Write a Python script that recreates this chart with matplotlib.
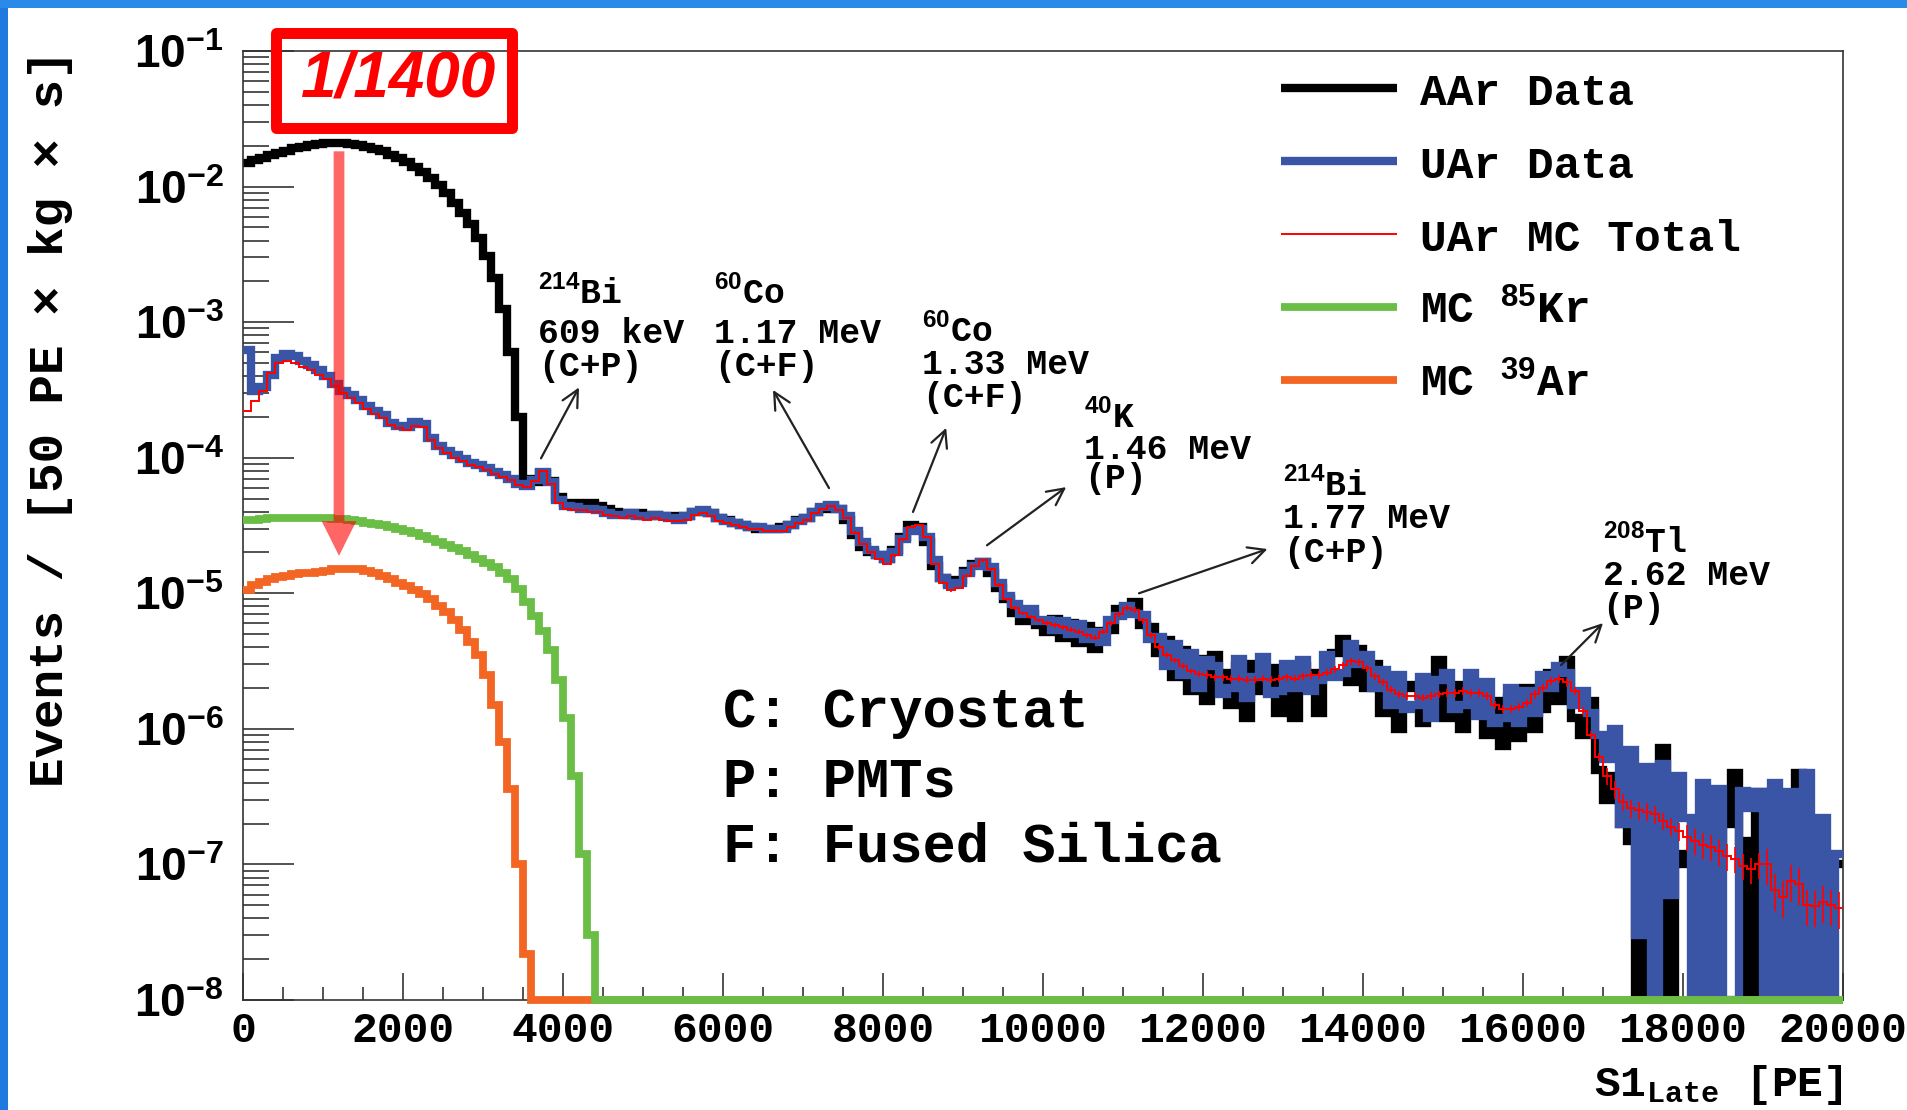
import numpy as np
import matplotlib
matplotlib.use('Agg')
import matplotlib.pyplot as plt
from matplotlib.lines import Line2D
from matplotlib.patches import Rectangle
from matplotlib.ticker import MultipleLocator, LogLocator, NullFormatter, FuncFormatter

# Histograms in 100 PE bins, 0 - 20000 PE
bin_width = 100
x_max = 20000

aar_data = [
    1.50e-2, 1.56e-2, 1.63e-2, 1.70e-2, 1.77e-2, 1.84e-2, 1.91e-2, 1.97e-2, 2.02e-2, 2.06e-2,
    2.08e-2, 2.09e-2, 2.09e-2, 2.07e-2, 2.03e-2, 1.97e-2, 1.90e-2, 1.82e-2, 1.72e-2, 1.62e-2,
    1.52e-2, 1.40e-2, 1.28e-2, 1.15e-2, 1.02e-2, 8.9e-3, 7.6e-3, 6.4e-3, 5.3e-3, 4.2e-3,
    3.1e-3, 2.1e-3, 1.25e-3, 6.0e-4, 2.0e-4, 7.0e-5, 6.6e-5, 7.7e-5, 6.7e-5, 5.1e-5,
    4.6e-5, 4.6e-5, 4.5e-5, 4.6e-5, 4.4e-5, 4.2e-5, 4.0e-5, 3.9e-5, 3.8e-5, 3.9e-5,
    3.7e-5, 3.8e-5, 3.7e-5, 3.7e-5, 3.6e-5, 3.7e-5, 4.0e-5, 4.0e-5, 3.9e-5, 3.6e-5,
    3.5e-5, 3.3e-5, 3.2e-5, 3.1e-5, 3.0e-5, 3.0e-5, 3.0e-5, 3.1e-5, 3.2e-5, 3.5e-5,
    3.6e-5, 4.0e-5, 4.2e-5, 4.4e-5, 4.2e-5, 3.5e-5, 2.7e-5, 2.2e-5, 2.0e-5, 1.9e-5,
    1.8e-5, 2.1e-5, 2.6e-5, 3.2e-5, 3.1e-5, 2.4e-5, 1.6e-5, 1.3e-5, 1.2e-5, 1.25e-5,
    1.45e-5, 1.65e-5, 1.7e-5, 1.4e-5, 1.1e-5, 9.0e-6, 7.2e-6, 6.2e-6, 7.0e-6, 5.8e-6,
    5.2e-6, 6.5e-6, 4.7e-6, 6.0e-6, 4.3e-6, 5.7e-6, 3.9e-6, 5.3e-6, 5.4e-6, 7.6e-6,
    7.8e-6, 8.6e-6, 5.8e-6, 5.6e-6, 3.6e-6, 4.5e-6, 2.4e-6, 3.8e-6, 1.9e-6, 3.3e-6,
    1.6e-6, 3.5e-6, 2.6e-6, 1.5e-6, 2.9e-6, 1.2e-6, 3.0e-6, 1.9e-6, 2.8e-6, 1.3e-6,
    2.7e-6, 1.2e-6, 2.9e-6, 2.6e-6, 1.3e-6, 2.5e-6, 3.6e-6, 4.6e-6, 2.2e-6, 3.9e-6,
    2.0e-6, 3.0e-6, 1.3e-6, 2.4e-6, 1.0e-6, 2.1e-6, 2.0e-6, 1.1e-6, 2.3e-6, 3.2e-6,
    1.2e-6, 2.1e-6, 1.0e-6, 1.3e-6, 2.0e-6, 9.0e-7, 1.6e-6, 7.5e-7, 1.7e-6, 8.5e-7,
    2.0e-6, 1.0e-6, 1.4e-6, 2.6e-6, 1.6e-6, 3.2e-6, 1.2e-6, 9.0e-7, 1.6e-6, 5.0e-7,
    3.0e-7, 4.5e-7, 2.0e-7, 1.5e-7, 0, 2.5e-7, 2.0e-7, 7.2e-7, 0, 1.2e-7,
    1.0e-7, 2.0e-7, 1.5e-7, 1.0e-7, 1.2e-7, 2.0e-7, 4.7e-7, 1.5e-7, 0, 3.4e-7,
    2.0e-7, 1.2e-7, 1.0e-7, 2.5e-7, 4.7e-7, 1.0e-7, 1.5e-7, 1.0e-7, 1.0e-7, 1.0e-7,
]

uar_data = [
    6.2e-4, 3.1e-4, 3.3e-4, 4.1e-4, 5.4e-4, 5.8e-4, 5.6e-4, 5.2e-4, 4.8e-4, 4.4e-4,
    4.0e-4, 3.5e-4, 3.1e-4, 2.9e-4, 2.65e-4, 2.4e-4, 2.2e-4, 2.05e-4, 1.8e-4, 1.7e-4,
    1.68e-4, 1.82e-4, 1.78e-4, 1.4e-4, 1.22e-4, 1.12e-4, 1.05e-4, 9.8e-5, 9.2e-5, 8.8e-5,
    8.4e-5, 7.9e-5, 7.5e-5, 7.0e-5, 6.4e-5, 6.2e-5, 6.8e-5, 7.8e-5, 6.6e-5, 4.9e-5,
    4.4e-5, 4.3e-5, 4.2e-5, 4.2e-5, 4.1e-5, 3.9e-5, 3.8e-5, 3.8e-5, 3.9e-5, 3.7e-5,
    3.7e-5, 3.8e-5, 3.7e-5, 3.6e-5, 3.5e-5, 3.7e-5, 4.0e-5, 4.1e-5, 3.9e-5, 3.6e-5,
    3.4e-5, 3.3e-5, 3.2e-5, 3.1e-5, 3.1e-5, 3.0e-5, 3.0e-5, 3.0e-5, 3.2e-5, 3.4e-5,
    3.6e-5, 4.0e-5, 4.3e-5, 4.5e-5, 4.2e-5, 3.7e-5, 2.9e-5, 2.4e-5, 2.1e-5, 1.9e-5,
    1.8e-5, 2.0e-5, 2.5e-5, 2.9e-5, 3.0e-5, 2.6e-5, 1.75e-5, 1.3e-5, 1.15e-5, 1.2e-5,
    1.4e-5, 1.6e-5, 1.7e-5, 1.55e-5, 1.2e-5, 9.5e-6, 8.4e-6, 7.0e-6, 7.6e-6, 6.2e-6,
    6.4e-6, 5.4e-6, 6.2e-6, 5.0e-6, 5.9e-6, 4.6e-6, 5.2e-6, 4.4e-6, 6.3e-6, 6.8e-6,
    8.0e-6, 7.0e-6, 6.9e-6, 4.6e-6, 4.8e-6, 2.9e-6, 4.2e-6, 2.5e-6, 3.6e-6, 2.0e-6,
    3.2e-6, 2.9e-6, 1.8e-6, 2.0e-6, 3.3e-6, 1.7e-6, 2.4e-6, 3.4e-6, 1.8e-6, 1.9e-6,
    3.0e-6, 2.0e-6, 3.2e-6, 1.9e-6, 2.3e-6, 3.5e-6, 2.4e-6, 2.6e-6, 4.2e-6, 3.0e-6,
    3.5e-6, 2.0e-6, 2.7e-6, 1.5e-6, 2.5e-6, 1.4e-6, 1.5e-6, 2.4e-6, 1.2e-6, 2.3e-6,
    2.6e-6, 1.4e-6, 1.5e-6, 2.6e-6, 1.25e-6, 2.2e-6, 1.1e-6, 1.2e-6, 2.0e-6, 1.1e-6,
    1.9e-6, 1.3e-6, 2.5e-6, 2.0e-6, 2.9e-6, 2.6e-6, 1.5e-6, 1.9e-6, 1.3e-6, 9.0e-7,
    6.0e-7, 1.0e-6, 2.0e-7, 7.0e-7, 3.0e-8, 5.2e-7, 0, 5.5e-7, 6.0e-8, 4.5e-7,
    2.2e-7, 0, 4.0e-7, 0, 3.6e-7, 0, 0, 3.5e-7, 2.6e-7, 3.4e-7,
    0, 4.0e-7, 0, 3.4e-7, 0, 4.7e-7, 0, 2.2e-7, 0, 1.2e-7,
]

uar_mc_total = [
    2.2e-4, 2.6e-4, 3.1e-4, 4.2e-4, 5.0e-4, 5.2e-4, 5.0e-4, 4.7e-4, 4.4e-4, 4.1e-4,
    3.8e-4, 3.4e-4, 3.0e-4, 2.75e-4, 2.55e-4, 2.3e-4, 2.1e-4, 1.95e-4, 1.75e-4, 1.65e-4,
    1.6e-4, 1.72e-4, 1.68e-4, 1.35e-4, 1.17e-4, 1.08e-4, 1.0e-4, 9.4e-5, 8.9e-5, 8.5e-5,
    8.1e-5, 7.6e-5, 7.2e-5, 6.8e-5, 6.3e-5, 6.1e-5, 6.7e-5, 8.0e-5, 6.4e-5, 4.6e-5,
    4.2e-5, 4.1e-5, 4.1e-5, 4.0e-5, 4.0e-5, 3.8e-5, 3.7e-5, 3.6e-5, 3.7e-5, 3.6e-5,
    3.5e-5, 3.6e-5, 3.5e-5, 3.4e-5, 3.4e-5, 3.5e-5, 3.8e-5, 3.9e-5, 3.7e-5, 3.4e-5,
    3.3e-5, 3.2e-5, 3.1e-5, 3.0e-5, 3.0e-5, 2.9e-5, 2.9e-5, 2.9e-5, 3.1e-5, 3.3e-5,
    3.5e-5, 3.9e-5, 4.2e-5, 4.4e-5, 4.1e-5, 3.6e-5, 2.8e-5, 2.3e-5, 2.0e-5, 1.8e-5,
    1.65e-5, 1.9e-5, 2.5e-5, 3.1e-5, 3.2e-5, 2.6e-5, 1.65e-5, 1.2e-5, 1.05e-5, 1.1e-5,
    1.35e-5, 1.6e-5, 1.75e-5, 1.5e-5, 1.15e-5, 9.0e-6, 7.8e-6, 7.1e-6, 6.7e-6, 6.3e-6,
    6.0e-6, 5.8e-6, 5.6e-6, 5.4e-6, 5.2e-6, 4.9e-6, 4.7e-6, 5.2e-6, 6.0e-6, 7.0e-6,
    7.8e-6, 7.5e-6, 6.3e-6, 4.9e-6, 4.0e-6, 3.5e-6, 3.2e-6, 2.9e-6, 2.65e-6, 2.55e-6,
    2.5e-6, 2.4e-6, 2.4e-6, 2.35e-6, 2.35e-6, 2.3e-6, 2.3e-6, 2.35e-6, 2.3e-6, 2.35e-6,
    2.4e-6, 2.35e-6, 2.45e-6, 2.5e-6, 2.5e-6, 2.6e-6, 2.75e-6, 2.95e-6, 3.15e-6, 3.1e-6,
    2.8e-6, 2.45e-6, 2.2e-6, 1.95e-6, 1.8e-6, 1.75e-6, 1.75e-6, 1.7e-6, 1.75e-6, 1.8e-6,
    1.85e-6, 1.85e-6, 1.9e-6, 1.85e-6, 1.85e-6, 1.75e-6, 1.5e-6, 1.4e-6, 1.4e-6, 1.45e-6,
    1.55e-6, 1.8e-6, 2.0e-6, 2.25e-6, 2.35e-6, 2.2e-6, 1.9e-6, 1.35e-6, 9.0e-7, 6.2e-7,
    4.5e-7, 3.6e-7, 2.9e-7, 2.6e-7, 2.5e-7, 2.45e-7, 2.35e-7, 2.1e-7, 1.9e-7, 1.75e-7,
    1.6e-7, 1.5e-7, 1.4e-7, 1.35e-7, 1.25e-7, 1.15e-7, 1.1e-7, 9.8e-8, 9.2e-8, 1.0e-7,
    1.0e-7, 6.5e-8, 5.8e-8, 7.6e-8, 7.2e-8, 5.0e-8, 4.9e-8, 5.3e-8, 5.0e-8, 4.8e-8,
]

# relative MC uncertainty, one value per 1000 PE
mc_rel_err = [0.01, 0.01, 0.01, 0.01, 0.01, 0.01, 0.01, 0.02, 0.02, 0.03,
              0.04, 0.05, 0.06, 0.06, 0.06, 0.07, 0.07, 0.15, 0.22, 0.30]

# MC components, only the non-empty bins at the start (rest are empty)
mc_kr85 = [
    3.45e-5, 3.5e-5, 3.55e-5, 3.6e-5, 3.6e-5, 3.6e-5, 3.6e-5, 3.6e-5, 3.6e-5, 3.6e-5,
    3.58e-5, 3.55e-5, 3.52e-5, 3.45e-5, 3.4e-5, 3.32e-5, 3.25e-5, 3.18e-5, 3.1e-5, 3.0e-5,
    2.9e-5, 2.78e-5, 2.65e-5, 2.52e-5, 2.38e-5, 2.28e-5, 2.17e-5, 2.05e-5, 1.92e-5, 1.8e-5,
    1.68e-5, 1.55e-5, 1.42e-5, 1.28e-5, 1.08e-5, 8.6e-6, 6.8e-6, 5.3e-6, 3.8e-6, 2.3e-6,
    1.2e-6, 4.5e-7, 1.2e-7, 3.0e-8,
]
mc_ar39 = [
    1.05e-5, 1.15e-5, 1.22e-5, 1.27e-5, 1.31e-5, 1.35e-5, 1.38e-5, 1.4e-5, 1.42e-5, 1.44e-5,
    1.47e-5, 1.5e-5, 1.52e-5, 1.51e-5, 1.5e-5, 1.46e-5, 1.41e-5, 1.35e-5, 1.28e-5, 1.2e-5,
    1.13e-5, 1.05e-5, 9.8e-6, 9.0e-6, 8.1e-6, 7.3e-6, 6.4e-6, 5.4e-6, 4.4e-6, 3.5e-6,
    2.5e-6, 1.5e-6, 8.0e-7, 3.6e-7, 1.0e-7, 2.2e-8,
]

legend_labels = ['AAr Data', 'UAr Data', 'UAr MC Total',
                 r'MC $^{\mathsf{85}}$Kr', r'MC $^{\mathsf{39}}$Ar']

# peak annotations: text lines, x of text, baseline of each line, arrow tail, arrow head
peak_notes = [
    ([r'$^{\mathsf{214}}$Bi', '609 keV', '(C+P)'], 3690, [1.36e-3, 7.0e-4, 4.0e-4],
     (3725, 9.9e-5), (4200, 3.3e-4)),
    ([r'$^{\mathsf{60}}$Co', '1.17 MeV', '(C+F)'], 5888, [1.36e-3, 7.0e-4, 4.0e-4],
     (7325, 5.97e-5), (6625, 3.16e-4)),
    ([r'$^{\mathsf{60}}$Co', '1.33 MeV', '(C+F)'], 8493, [7.16e-4, 4.14e-4, 2.36e-4],
     (8375, 3.98e-5), (8790, 1.66e-4)),
    ([r'$^{\mathsf{40}}$K', '1.46 MeV', '(P)'], 10513, [1.65e-4, 9.8e-5, 5.97e-5],
     (9300, 2.26e-5), (10290, 6.07e-5)),
    ([r'$^{\mathsf{214}}$Bi', '1.77 MeV', '(C+P)'], 13000, [5.25e-5, 3.03e-5, 1.71e-5],
     (11200, 1.0e-5), (12806, 2.12e-5)),
    ([r'$^{\mathsf{208}}$Tl', '2.62 MeV', '(P)'], 16995, [2.0e-5, 1.16e-5, 6.6e-6],
     (16475, 2.95e-6), (17000, 6.03e-6)),
]

source_notes = ['C: Cryostat', 'P: PMTs', 'F: Fused Silica']


def main():
    plt.rcParams['font.family'] = ['Liberation Mono', 'DejaVu Sans']
    plt.rcParams['font.weight'] = 'bold'
    plt.rcParams['mathtext.fontset'] = 'custom'
    plt.rcParams['mathtext.sf'] = 'Liberation Sans:bold'
    plt.rcParams['mathtext.rm'] = 'Liberation Mono:bold'

    W, H = 1908, 1110
    fig = plt.figure(figsize=(W / 100, H / 100), dpi=100)
    fig.patch.set_facecolor('white')

    # slide frame
    fig.add_artist(Rectangle((0, 0), 8 / W, 1, transform=fig.transFigure,
                             color='#1f7adf', lw=0))
    fig.add_artist(Rectangle((0, 1 - 8 / H), 1, 8 / H, transform=fig.transFigure,
                             color='#2a8ae8', lw=0))

    ax = fig.add_axes([243 / W, 1 - 1000 / H, 1600 / W, 949 / H])
    ymin, ymax = 1e-8, 1e-1

    edges = np.arange(0, x_max + bin_width, bin_width)
    nbins = len(edges) - 1

    def hist(vals):
        v = np.zeros(nbins)
        v[:len(vals)] = vals
        v = np.where(v > 0, v, ymin)   # empty bins sit on the frame like in ROOT
        return np.append(v, v[-1])

    step_kw = dict(where='post', solid_joinstyle='miter', solid_capstyle='butt')
    ax.step(edges, hist(aar_data), color='black', lw=6.0, zorder=2, **step_kw)
    ax.step(edges, hist(uar_data), color='#3a55a6', lw=6.0, zorder=3, **step_kw)
    ax.step(edges, hist(uar_mc_total), color='red', lw=1.4, zorder=5, **step_kw)

    centers = edges[:-1] + bin_width / 2
    mc = np.array(uar_mc_total)
    err = np.repeat(mc_rel_err, 10) * mc
    ax.errorbar(centers, mc, yerr=err, fmt='none', ecolor='red', elinewidth=1.2,
                capsize=0, zorder=5)

    ax.step(edges, hist(mc_ar39), color='#f26522', lw=5.6, zorder=6,
            clip_on=False, **step_kw)
    ax.step(edges, hist(mc_kr85), color='#6abd45', lw=5.6, zorder=7,
            clip_on=False, **step_kw)

    ax.set_xlim(0, x_max)
    ax.set_yscale('log')
    ax.set_ylim(ymin, ymax)

    ax.xaxis.set_major_locator(MultipleLocator(2000))
    ax.xaxis.set_minor_locator(MultipleLocator(500))
    ax.set_yticks([10.0 ** k for k in range(-8, 0)])
    ax.yaxis.set_minor_locator(LogLocator(base=10, subs=np.arange(2, 10)))
    ax.yaxis.set_minor_formatter(NullFormatter())
    ax.yaxis.set_major_formatter(
        FuncFormatter(lambda v, pos: r'$\mathsf{10^{%d}}$' % round(np.log10(v))))

    ax.tick_params(which='both', direction='in', top=False, right=False,
                   color='#222222', width=1.1)
    ax.tick_params(axis='y', which='major', length=36.5, labelsize=33, pad=14)
    ax.tick_params(axis='y', which='minor', length=18.5)
    ax.tick_params(axis='x', which='major', length=19.5, labelsize=31, pad=8)
    ax.tick_params(axis='x', which='minor', length=9.7)
    for s in ax.spines.values():
        s.set_linewidth(1.2)
        s.set_color('#333333')

    fig.text(51 / W, 1 - 418 / H, 'Events / [50 PE \u00d7 kg \u00d7 s]',
             rotation=90, ha='center', va='center', fontsize=35.5)
    fig.text(1843 / W, 1 - 1096 / H, r'S1$_{\mathdefault{Late}}$ [PE]',
             ha='right', va='baseline', fontsize=31)

    # legend (no border, ROOT style)
    colors = ['black', '#3a55a6', 'red', '#6abd45', '#f26522']
    widths = [6.0, 6.0, 1.4, 5.6, 5.6]
    for i, (lab, c, lw) in enumerate(zip(legend_labels, colors, widths)):
        y = 87.5 + 73 * i
        fig.add_artist(Line2D([1281 / W, 1397 / W], [1 - y / H, 1 - y / H],
                              transform=fig.transFigure, color=c, lw=lw,
                              solid_capstyle='butt'))
        fig.text(1420 / W, 1 - (y + 17.5) / H, lab, ha='left', va='baseline',
                 fontsize=32)

    # peak labels
    for lines, tx, bases, tail, head in peak_notes:
        for line, b in zip(lines, bases):
            ax.text(tx, b, line, ha='left', va='baseline', fontsize=25, zorder=8)
        ax.annotate('', xy=head, xytext=tail,
                    arrowprops=dict(arrowstyle='->,head_length=0.6,head_width=0.3',
                                    color='#222222', lw=1.6, shrinkA=0, shrinkB=0,
                                    mutation_scale=20), zorder=8)

    for i, note in enumerate(source_notes):
        ax.text(0.30, [0.2874, 0.2142, 0.1457][i], note, transform=ax.transAxes,
                ha='left', va='baseline', fontsize=40)

    # scale factor box and arrow
    fig.add_artist(Rectangle((276 / W, 1 - 128 / H), 236 / W, 94.5 / H,
                             transform=fig.transFigure, fill=False, ec='red',
                             lw=7.9, joinstyle='round', zorder=10))
    fig.text(399 / W, 1 - 79 / H, '1/1400', color='red', ha='center', va='center',
             fontsize=46, family='Liberation Sans', style='italic', weight='bold')
    ax.annotate('', xy=(1200, 1.89e-5), xytext=(1200, 1.82e-2),
                arrowprops=dict(arrowstyle='simple,head_length=1.0,head_width=1.0,tail_width=0.31',
                                color='red', alpha=0.6, lw=0, shrinkA=0, shrinkB=0,
                                mutation_scale=25), zorder=12)

    fig.savefig('out.png', dpi=100)


if __name__ == "__main__":
    main()
